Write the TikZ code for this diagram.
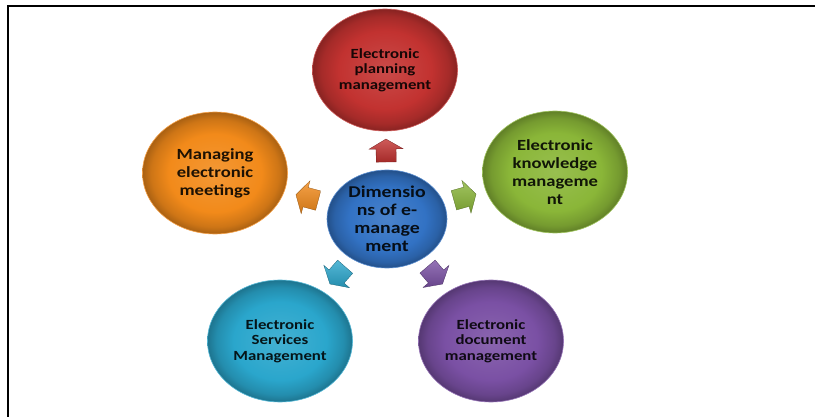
\documentclass[tikz,border=0pt]{standalone}
\usepackage{fontspec}
\newfontfamily\ballfont[FakeStretch=1.2]{Carlito}
\usetikzlibrary{shapes.geometric,calc}

\definecolor{planred}{RGB}{194,50,48}
\definecolor{meetorange}{RGB}{242,138,26}
\definecolor{knowgreen}{RGB}{138,182,56}
\definecolor{hubblue}{RGB}{50,114,196}
\definecolor{servteal}{RGB}{42,166,204}
\definecolor{docpurple}{RGB}{122,80,164}
\colorlet{ballin}{white}
\colorlet{ballmid}{white}
\colorlet{ballout}{black}
\pgfdeclareradialshading[ballin,ballmid,ballout]{glossy}{\pgfpoint{0bp}{0bp}}{%
  color(0bp)=(ballin); color(16bp)=(ballmid); color(22bp)=(ballmid!85!black);
  color(25bp)=(ballout); color(50bp)=(ballout)}

\begin{document}
\begin{tikzpicture}
[
    x=1pt, y=-1pt,
    ball/.style={ellipse, inner sep=0pt, align=center,
        minimum width=145pt, minimum height=122pt,
        /utils/exec={\colorlet{ballin}{#1!88!white}\colorlet{ballmid}{#1}%
            \colorlet{ballout}{#1!70!black}},
        shading=glossy, draw=#1!80!white, line width=.6pt,
        text=#1!12!black, font=\ballfont\bfseries\fontsize{14}{15.5}\selectfont},
    midtext/.style={font=\ballfont\bfseries\fontsize{15.5}{18}\selectfont},
    hubtext/.style={font=\ballfont\bfseries\fontsize{16.5}{18}\selectfont},
    arrowfill/.style={shading=axis, top color=#1!80!white, bottom color=#1!85!black,
        draw=#1!60!black, line width=.3pt},
]
\useasboundingbox (0,0) rectangle (815,417);
\draw[line width=2pt] (8.3,417) -- (8.3,6) -- (815,6);

\node[ball=planred] (plan) at (385,70) {Electronic\\planning\\management};
\node[ball=meetorange, midtext] (meet) at (215,173) {Managing\\electronic\\meetings};
\node[ball=knowgreen, midtext] (know) at (555,172) {Electronic\\knowledge\\manageme\\nt};
\node[ball=servteal] (serv) at (280,341) {Electronic\\Services\\Management};
\node[ball=docpurple] (docs) at (491,341) {Electronic\\document\\management};
\node[ball=hubblue, hubtext, minimum width=120pt, minimum height=98pt]
    (hub) at (387,219) {Dimensio\\ns of e-\\manage\\ment};

\foreach \tgt/\col in {plan/planred, meet/meetorange, know/knowgreen,
                       serv/servteal, docs/docpurple}
{
    \path (hub) -- coordinate (to\tgt) (\tgt);
    \path[arrowfill=\col] let \p1=($(\tgt)-(hub)$), \n1={atan2(\y1,\x1)} in
        [shift={(to\tgt)}, rotate=\n1]
        (11.5pt,0pt) -- (1.5pt,17pt) -- (1.5pt,10pt) -- (-11.5pt,10pt)
        -- (-11.5pt,-10pt) -- (1.5pt,-10pt) -- (1.5pt,-17pt) -- cycle;
}
\end{tikzpicture}
\end{document}
